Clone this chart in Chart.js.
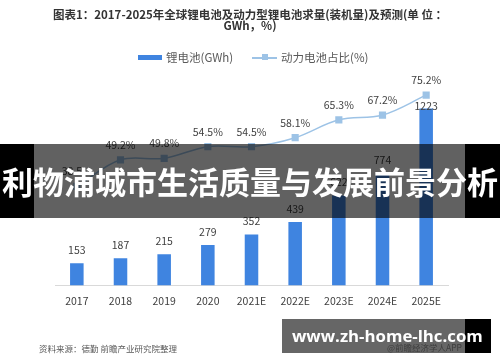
<!DOCTYPE html>
<html>
<head>
<meta charset="utf-8">
<script src="https://cdn.jsdelivr.net/npm/chart.js@4"></script>
<style>
  html, body { margin: 0; padding: 0; background: #fff; }
  #wrap { position: relative; width: 500px; height: 362px; overflow: hidden;
          font-family: "Noto Sans CJK SC", "Noto Sans", sans-serif; }
  #chart { position: absolute; left: 0; top: 0; }
  .title { position: absolute; left: 0; width: 500px; text-align: center;
           font-size: 11.5px; font-weight: bold; color: #333; line-height: 11px; top: 9px; }
  .legend { position: absolute; top: 49px; left: 138px; height: 16px; font-size: 11.5px; color: #595959; }
  .legend span { position: absolute; white-space: nowrap; top: 0; line-height: 16px; }
  .src { position: absolute; left: 39px; top: 342px; font-size: 8.5px; color: #595959; white-space: nowrap; }
  .banner { position: absolute; left: 0; top: 144px; width: 500px; height: 74px; }
  .banner .mid { position: absolute; left: 34px; width: 431px; top: 0; bottom: 0; background: rgba(0,0,0,0.62); }
  .banner .side { position: absolute; top: 0; bottom: 0; background: #000; }
  .banner .txt { position: absolute; left: 0; width: 500px; text-align: center; top: 0; line-height: 74px;
                 color: #fff; font-weight: bold; font-size: 31px; white-space: nowrap; }
  .wm-app { position: absolute; left: 387px; top: 341px; font-size: 8.5px; color: #999; white-space: nowrap; }
  .wm { position: absolute; left: 282px; top: 319px; width: 209px; height: 34px; }
  .wm .mid { position: absolute; left: 0; width: 183px; top: 0; bottom: 0; background: rgba(0,0,0,0.6); }
  .wm .side { position: absolute; left: 183px; width: 26px; top: 0; bottom: 0; background: #000; }
  .wm .txt { position: absolute; left: 10px; top: 0; line-height: 34px; color: #fff; font-weight: bold;
             font-size: 16.8px; white-space: nowrap; font-family: "Open Sans", "Noto Sans", sans-serif; }
</style>
</head>
<body>
<div id="wrap">
  <canvas id="chart" width="500" height="362"></canvas>
  <div class="title">图表1：2017-2025年全球锂电池及动力型锂电池求量(装机量)及预测(单 位 ：<br>GWh，%)</div>
  <div class="legend">
    <span style="left:0;top:6px;width:24px;height:5px;background:#3f84e0;"></span>
    <span style="left:28px;">锂电池(GWh)</span>
    <span style="left:114px;top:8px;width:25px;height:1.5px;background:#9dc3e6;"></span>
    <span style="left:124px;top:5px;width:6px;height:6px;background:#9dc3e6;"></span>
    <span style="left:143px;">动力电池占比(%)</span>
  </div>
  <div class="src">资料来源：德勤 前瞻产业研究院整理</div>
  <div class="wm-app">@前瞻经济学人APP</div>
  <div class="wm"><div class="mid"></div><div class="side"></div><div class="txt">www.zh-home-lhc.com</div></div>
  <div class="banner">
    <div class="side" style="left:0;width:34px;"></div>
    <div class="mid"></div>
    <div class="side" style="left:465px;width:35px;"></div>
    <div class="txt">利物浦城市生活质量与发展前景分析</div>
  </div>
</div>
<script>
const years = ['2017', '2018', '2019', '2020', '2021E', '2022E', '2023E', '2024E', '2025E'];
const batteryGWh = [153, 187, 215, 279, 352, 439, 622, 774, 1223];
const powerShare = [38.5, 49.2, 49.8, 54.5, 54.5, 58.1, 65.3, 67.2, 75.2];

const labelFont = '10.5px "Noto Sans CJK SC", "Noto Sans", sans-serif';

// value labels above bars and line points
const valueLabels = {
    id: 'valueLabels',
    afterDatasetsDraw(chart) {
        const c = chart.ctx;
        c.save();
        c.font = labelFont;
        c.fillStyle = '#404040';
        c.textAlign = 'center';
        c.textBaseline = 'middle';
        chart.getDatasetMeta(0).data.forEach((bar, i) => {
            let dy = 13;
            if (i === 8) dy = 3; // excel moved this one down
            c.fillText(String(batteryGWh[i]), bar.x, bar.y - dy);
        });
        chart.getDatasetMeta(1).data.forEach((pt, i) => {
            c.fillText(powerShare[i].toFixed(1) + '%', pt.x, pt.y - 15);
        });
        c.restore();
    }
};

const ctx = document.getElementById('chart');

const chart = new Chart(ctx, {
    data: {
        labels: years,
        datasets: [{
            type: 'bar',
            label: '锂电池(GWh)',
            data: batteryGWh,
            backgroundColor: '#3f84e0',
            barPercentage: 0.31,
            categoryPercentage: 1,
            yAxisID: 'y',
            order: 2
        }, {
            type: 'line',
            label: '动力电池占比(%)',
            data: powerShare,
            borderColor: '#9dc3e6',
            borderWidth: 1.5,
            backgroundColor: '#9dc3e6',
            pointStyle: 'rect',
            pointRadius: 4,
            tension: 0.35,
            yAxisID: 'y1',
            order: 1
        }]
    },
    options: {
        responsive: false,
        animation: false,
        layout: {
            padding: { left: 55, right: 52, top: 83, bottom: 46 }
        },
        plugins: {
            legend: { display: false },
            title: { display: false },
            tooltip: { enabled: false }
        },
        scales: {
            x: {
                grid: { display: false, drawTicks: false },
                border: { display: true, color: '#d9d9d9', width: 1 },
                ticks: {
                    color: '#404040',
                    padding: 9,
                    font: { size: 10.5, family: '"Noto Sans CJK SC", "Noto Sans", sans-serif' },
                    maxRotation: 0
                }
            },
            y: { display: false, min: 0, max: 1400 },
            y1: { display: false, min: -1.3, max: 80.1 }
        }
    },
    plugins: [valueLabels]
});
</script>
</body>
</html>
